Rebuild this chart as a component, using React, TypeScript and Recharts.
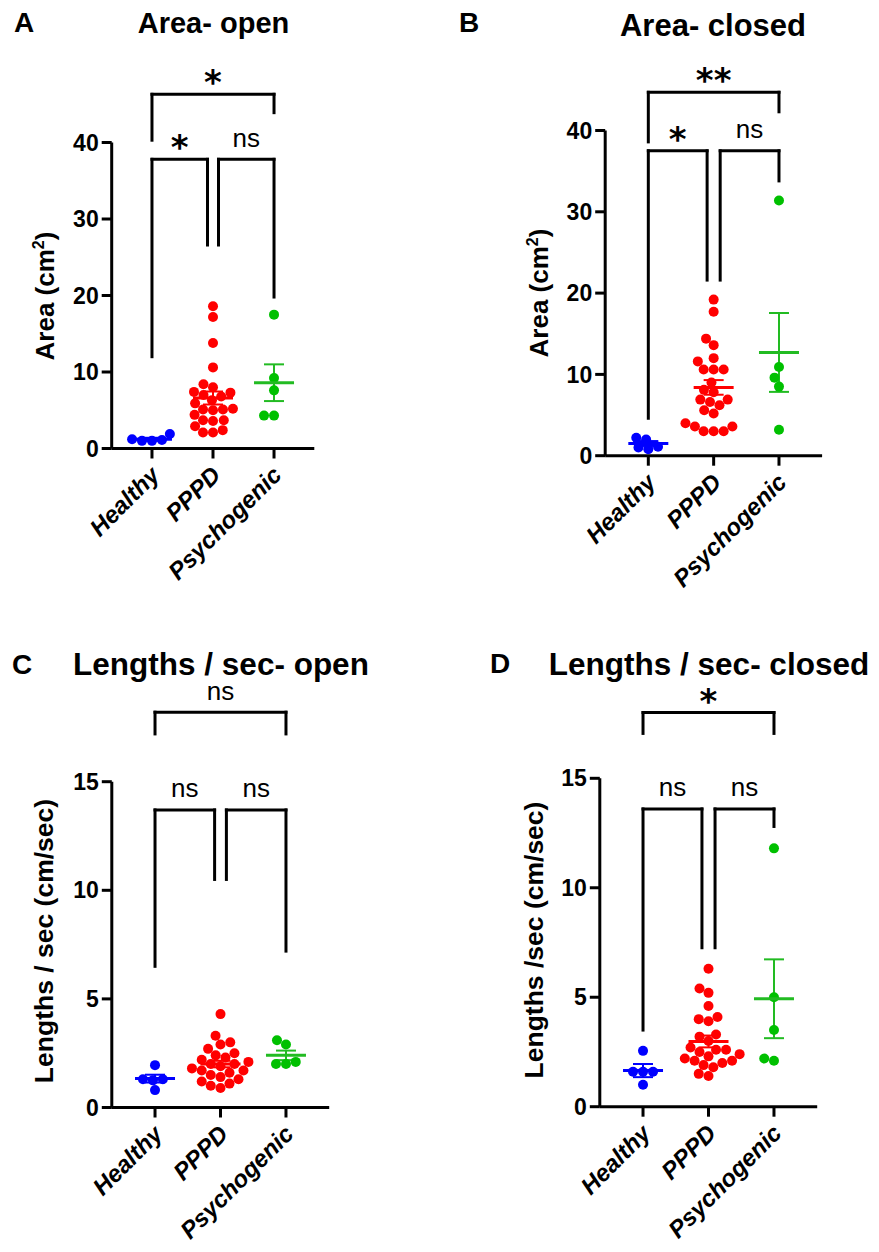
import React from "react";
import { ScatterChart, Scatter, XAxis, YAxis, ErrorBar, ReferenceLine } from "recharts";

const FONT = '"Liberation Sans", Arial, Helvetica, sans-serif';
const STAR_FONT = '"DejaVu Sans", sans-serif';

const groups = ["Healthy", "PPPD", "Psychogenic"];
const dotColors = ["#0000FF", "#FF0000", "#00C000"];
const barColors = ["#0000FF", "#FF0000", "#22BB22"];

// A - Area open (cm2)
const areaOpenHealthy = [1.0, 1.9, 1.1, 1.2, 1.0];
const areaOpenPPPD = [18.6, 17.2, 13.8, 10.6, 8.4, 8.0, 7.4, 7.3, 7.0, 6.8, 6.3, 5.9, 5.1, 5.1, 5.0, 5.2, 4.4, 3.7, 3.7, 3.6, 2.9, 2.4, 2.1, 2.1];
const areaOpenPsychogenic = [17.5, 9.2, 7.6, 4.3, 4.3];
const areaOpenMean = [1.2, 6.6, 8.6];
const areaOpenSem = [0.2, 0.85, 2.4];

// B - Area closed (cm2)
const areaClosedHealthy = [2.0, 2.2, 0.8, 1.0, 1.1];
const areaClosedPPPD = [19.2, 17.7, 14.4, 13.6, 12.0, 11.6, 10.6, 10.6, 10.6, 9.0, 8.1, 7.8, 6.9, 6.9, 6.6, 6.2, 5.6, 5.2, 4.0, 3.6, 3.6, 3.0, 3.0, 3.0];
const areaClosedPsychogenic = [31.4, 10.9, 9.6, 8.5, 3.2];
const areaClosedMean = [1.5, 8.4, 12.7];
const areaClosedSem = [0.3, 0.9, 4.85];

// C - Lengths / sec open (cm/sec)
const lenOpenHealthy = [1.95, 1.3, 1.25, 1.3, 0.8];
const lenOpenPPPD = [4.3, 3.3, 3.0, 2.9, 2.7, 2.5, 2.4, 2.3, 2.2, 2.1, 2.0, 2.0, 1.9, 1.8, 1.7, 1.7, 1.6, 1.5, 1.4, 1.3, 1.2, 1.1, 1.0, 0.9];
const lenOpenPsychogenic = [3.1, 2.9, 2.1, 2.0, 2.0];
const lenOpenMean = [1.33, 2.0, 2.4];
const lenOpenSem = [0.18, 0.15, 0.22];

// D - Lengths / sec closed (cm/sec)
const lenClosedHealthy = [2.55, 1.6, 1.6, 1.6, 1.0];
const lenClosedPPPD = [6.3, 5.4, 5.2, 4.6, 4.1, 4.0, 3.9, 3.3, 3.2, 3.0, 2.7, 2.6, 2.6, 2.5, 2.4, 2.3, 2.2, 2.1, 2.1, 2.0, 1.9, 1.8, 1.5, 1.4];
const lenClosedPsychogenic = [11.8, 5.0, 3.5, 2.1, 2.2];
const lenClosedMean = [1.65, 2.98, 4.93];
const lenClosedSem = [0.3, 0.27, 1.8];

type Bracket = { from: number; to: number; y: number; leftEnd: number; rightEnd: number; label: string };

const areaOpenBrackets: Bracket[] = [
  { from: 0, to: 2, y: 46.3, leftEnd: 40.3, rightEnd: 43.9, label: "*" },
  { from: 0, to: 0.91, y: 37.8, leftEnd: 12.0, rightEnd: 26.6, label: "*" },
  { from: 1.09, to: 2, y: 37.8, leftEnd: 26.6, rightEnd: 19.8, label: "ns" },
];
const areaClosedBrackets: Bracket[] = [
  { from: 0, to: 2, y: 44.7, leftEnd: 38.6, rightEnd: 42.3, label: "**" },
  { from: 0, to: 0.9, y: 37.5, leftEnd: 4.6, rightEnd: 21.6, label: "*" },
  { from: 1.1, to: 2, y: 37.5, leftEnd: 21.6, rightEnd: 33.8, label: "ns" },
];
const lenOpenBrackets: Bracket[] = [
  { from: 0, to: 2, y: 18.2, leftEnd: 17.2, rightEnd: 17.2, label: "ns" },
  { from: 0, to: 0.91, y: 13.7, leftEnd: 6.5, rightEnd: 10.5, label: "ns" },
  { from: 1.09, to: 2, y: 13.7, leftEnd: 10.5, rightEnd: 7.2, label: "ns" },
];
const lenClosedBrackets: Bracket[] = [
  { from: 0, to: 2, y: 18.0, leftEnd: 17.05, rightEnd: 17.05, label: "*" },
  { from: 0, to: 0.9, y: 13.6, leftEnd: 3.5, rightEnd: 7.26, label: "ns" },
  { from: 1.1, to: 2, y: 13.6, leftEnd: 7.26, rightEnd: 12.8, label: "ns" },
];

const X_DOMAIN: [number, number] = [-0.66, 2.66];
const Y_AXIS_W = 60;
const X_AXIS_H = 40;
const DOT_R = 5;

type Frame = { left: number; top: number; w: number; h: number; plotL: number; plotR: number; plotT: number; plotB: number };

// simple beeswarm: spread points sideways so they don't sit on top of each other
function swarm(values: number[], pxPerUnit: number, spacing: number, gap = 10): number[] {
  const order = values.map((_, i) => i).sort((a, b) => values[a] - values[b]);
  const placed: { x: number; y: number }[] = [];
  const out = new Array(values.length).fill(0);
  for (const i of order) {
    const y = values[i] * pxPerUnit;
    const near = placed.filter((p) => Math.abs(p.y - y) < gap);
    const cands = [0];
    near.forEach((p) => {
      const dx = Math.sqrt(gap * gap - (p.y - y) ** 2);
      cands.push(p.x - dx, p.x + dx);
    });
    const ok = cands
      .filter((c) => near.every((p) => (p.x - c) ** 2 + (p.y - y) ** 2 >= gap * gap - 0.01))
      .sort((a, b) => Math.abs(a) - Math.abs(b) || a - b);
    placed.push({ x: ok[0], y });
    out[i] = ok[0] / spacing;
  }
  return out;
}

const GroupTick = (props: any) => {
  const { x, y, payload } = props;
  const tx = x + 9;
  const ty = y + 16;
  return (
    <text
      x={tx}
      y={ty}
      transform={`rotate(-45 ${tx} ${ty})`}
      textAnchor="end"
      fontFamily={FONT}
      fontSize={24}
      fontWeight={700}
      fontStyle="italic"
      fill="#000"
    >
      {groups[payload.value]}
    </text>
  );
};

const sigContent = (text: string) => (props: any) => {
  const vb = props.viewBox ?? {};
  const cx = (vb.x ?? 0) + (vb.width ?? 0) / 2;
  const star = text.includes("*");
  return (
    <text
      x={cx}
      y={(vb.y ?? 0) - (star ? 0 : 12.5)}
      textAnchor="middle"
      fontFamily={star ? STAR_FONT : FONT}
      fontWeight={star ? 700 : 400}
      fontSize={star ? 34 : 26}
      fill="#000"
    >
      {text}
    </text>
  );
};

type PanelSpec = {
  series: number[][];
  means: number[];
  sems: number[];
  brackets: Bracket[];
  yMax: number;
  yTicks: number[];
  frame: Frame;
};

function Panel({ p }: { p: PanelSpec }) {
  const f = p.frame;
  const margin = {
    top: f.plotT - f.top,
    right: f.left + f.w - f.plotR,
    bottom: f.top + f.h - f.plotB - X_AXIS_H,
    left: f.plotL - f.left - Y_AXIS_W,
  };
  const pxPerUnit = (f.plotB - f.plotT) / p.yMax;
  const spacing = (f.plotR - f.plotL) / (X_DOMAIN[1] - X_DOMAIN[0]);
  const pointSets = p.series.map((vals, gi) =>
    swarm(vals, pxPerUnit, spacing).map((dx, k) => ({ x: gi + dx, y: vals[k] }))
  );
  const axisStyle = { stroke: "#000", strokeWidth: 3 };

  return (
    <div style={{ position: "absolute", left: f.left, top: f.top }}>
      <ScatterChart width={f.w} height={f.h} margin={margin}>
        <XAxis
          type="number"
          dataKey="x"
          domain={X_DOMAIN}
          ticks={[0, 1, 2]}
          interval={0}
          allowDataOverflow
          height={X_AXIS_H}
          tickSize={10}
          axisLine={axisStyle}
          tickLine={axisStyle}
          tick={<GroupTick />}
        />
        <YAxis
          type="number"
          dataKey="y"
          domain={[0, p.yMax]}
          ticks={p.yTicks}
          interval={0}
          allowDataOverflow
          width={Y_AXIS_W}
          tickSize={10}
          tickMargin={3}
          axisLine={axisStyle}
          tickLine={axisStyle}
          tick={{ fill: "#000", fontSize: 23, fontWeight: 700, fontFamily: FONT }}
        />
        {pointSets.map((pts, gi) => (
          <Scatter
            key={`pts-${gi}`}
            data={pts}
            isAnimationActive={false}
            shape={(s: any) => <circle cx={s.cx} cy={s.cy} r={DOT_R} fill={dotColors[gi]} />}
          />
        ))}
        {p.means.map((m, gi) => (
          <Scatter
            key={`mean-${gi}`}
            data={[{ x: gi, y: m, sem: p.sems[gi] }]}
            isAnimationActive={false}
            shape={(s: any) => (
              <line x1={s.cx - 20} x2={s.cx + 20} y1={s.cy} y2={s.cy} stroke={barColors[gi]} strokeWidth={3} />
            )}
          >
            <ErrorBar dataKey="sem" direction="y" width={10} stroke={barColors[gi]} strokeWidth={2} isAnimationActive={false} />
          </Scatter>
        ))}
        {p.brackets.map((b, bi) => [
          <ReferenceLine
            key={`bh-${bi}`}
            segment={[{ x: b.from, y: b.y }, { x: b.to, y: b.y }]}
            ifOverflow="visible"
            stroke="#000"
            strokeWidth={3}
            strokeLinecap="square"
            label={{ content: sigContent(b.label) }}
          />,
          <ReferenceLine
            key={`bl-${bi}`}
            segment={[{ x: b.from, y: b.y }, { x: b.from, y: b.leftEnd }]}
            ifOverflow="visible"
            stroke="#000"
            strokeWidth={3}
            strokeLinecap="square"
          />,
          <ReferenceLine
            key={`br-${bi}`}
            segment={[{ x: b.to, y: b.y }, { x: b.to, y: b.rightEnd }]}
            ifOverflow="visible"
            stroke="#000"
            strokeWidth={3}
            strokeLinecap="square"
          />,
        ])}
      </ScatterChart>
    </div>
  );
}

const panels: PanelSpec[] = [
  {
    series: [areaOpenHealthy, areaOpenPPPD, areaOpenPsychogenic],
    means: areaOpenMean,
    sems: areaOpenSem,
    brackets: areaOpenBrackets,
    yMax: 40,
    yTicks: [0, 10, 20, 30, 40],
    frame: { left: 0, top: 0, w: 440, h: 626, plotL: 111.7, plotR: 314.3, plotT: 142.5, plotB: 448.5 },
  },
  {
    series: [areaClosedHealthy, areaClosedPPPD, areaClosedPsychogenic],
    means: areaClosedMean,
    sems: areaClosedSem,
    brackets: areaClosedBrackets,
    yMax: 40,
    yTicks: [0, 10, 20, 30, 40],
    frame: { left: 440, top: 0, w: 439, h: 626, plotL: 605.2, plotR: 822.1, plotT: 130.5, plotB: 455.7 },
  },
  {
    series: [lenOpenHealthy, lenOpenPPPD, lenOpenPsychogenic],
    means: lenOpenMean,
    sems: lenOpenSem,
    brackets: lenOpenBrackets,
    yMax: 15,
    yTicks: [0, 5, 10, 15],
    frame: { left: 0, top: 626, w: 440, h: 626, plotL: 111.8, plotR: 329.2, plotT: 781.7, plotB: 1107.5 },
  },
  {
    series: [lenClosedHealthy, lenClosedPPPD, lenClosedPsychogenic],
    means: lenClosedMean,
    sems: lenClosedSem,
    brackets: lenClosedBrackets,
    yMax: 15,
    yTicks: [0, 5, 10, 15],
    frame: { left: 440, top: 626, w: 439, h: 626, plotL: 599.8, plotR: 817.2, plotT: 778.3, plotB: 1106.7 },
  },
];

function Labels() {
  const bold = { fontFamily: FONT, fontWeight: 700, fill: "#000" } as const;
  return (
    <svg width={879} height={1252} style={{ position: "absolute", left: 0, top: 0 }}>
      <text x={14} y={32} fontSize={28} {...bold}>A</text>
      <text x={459} y={32} fontSize={28} {...bold}>B</text>
      <text x={12} y={674} fontSize={28} {...bold}>C</text>
      <text x={490} y={673} fontSize={28} {...bold}>D</text>

      <text x={213.5} y={33} fontSize={29} textAnchor="middle" {...bold}>Area- open</text>
      <text x={713} y={36} fontSize={31} textAnchor="middle" {...bold}>Area- closed</text>
      <text x={221} y={675} fontSize={31.5} textAnchor="middle" {...bold}>Lengths / sec- open</text>
      <text x={709} y={675} fontSize={31.5} textAnchor="middle" {...bold}>Lengths / sec- closed</text>

      <text x={54} y={296} fontSize={26} textAnchor="middle" transform="rotate(-90 54 296)" {...bold}>
        Area (cm<tspan fontSize={16} dy={-10}>2</tspan><tspan dy={10}>)</tspan>
      </text>
      <text x={548} y={293} fontSize={26} textAnchor="middle" transform="rotate(-90 548 293)" {...bold}>
        Area (cm<tspan fontSize={16} dy={-10}>2</tspan><tspan dy={10}>)</tspan>
      </text>
      <text x={53} y={941} fontSize={26.5} textAnchor="middle" transform="rotate(-90 53 941)" {...bold}>
        Lengths / sec (cm/sec)
      </text>
      <text x={543} y={940} fontSize={26.5} textAnchor="middle" transform="rotate(-90 543 940)" {...bold}>
        Lengths /sec (cm/sec)
      </text>
    </svg>
  );
}

export default function App() {
  return (
    <div style={{ position: "absolute", left: 0, top: 0, width: 879, height: 1252, background: "#fff", overflow: "hidden" }}>
      <Labels />
      {panels.map((p, i) => (
        <Panel key={i} p={p} />
      ))}
    </div>
  );
}
